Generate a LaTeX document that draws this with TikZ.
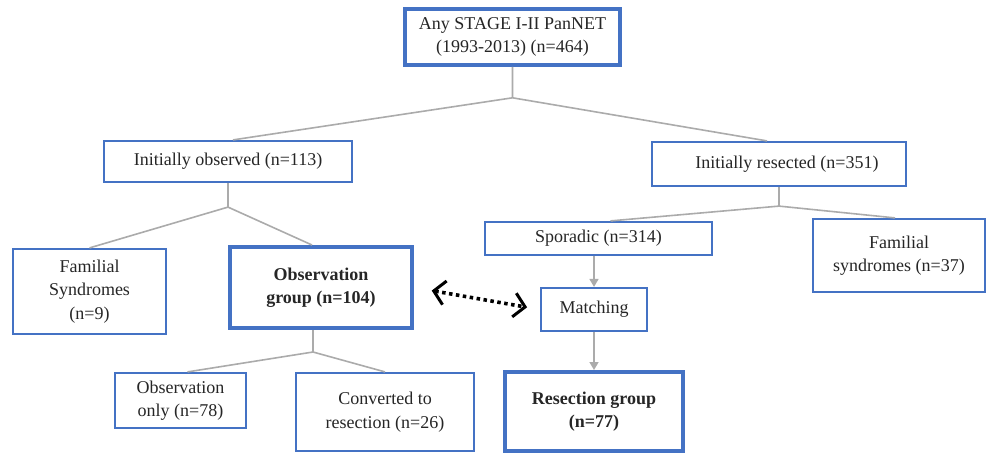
\documentclass[tikz,border=0pt]{standalone}
\usepackage{fontspec}
\setmainfont{Liberation Serif}
\usepackage{tikz}
\usetikzlibrary{arrows.meta,calc,positioning}
\definecolor{boxCol}{HTML}{4472C4}
\definecolor{lnCol}{HTML}{ABABAB}
\tikzset{
  box/.style={draw=boxCol, line width=2.2pt, fill=white, align=center, inner sep=2pt,
              font=\fontsize{18}{23.5}\selectfont, text=black!85},
  bigbox/.style={box, line width=4pt, font=\fontsize{18}{23.5}\selectfont\bfseries},
  tree/.style={lnCol, line width=1.6pt},
  flow/.style={lnCol, line width=1.6pt, -{Triangle[length=8pt,width=9pt]}},
  pairarr/.style={black, line width=3.6pt, dash pattern=on 3.5pt off 3.5pt,
                  {Straight Barb[length=11pt,width=24pt,line width=3pt]}-{Straight Barb[length=11pt,width=24pt,line width=3pt]}},
}
\begin{document}
\begin{tikzpicture}[x=1pt,y=-1pt]
  \useasboundingbox (0,0) rectangle (987,453);
  % cohort
  \node[box, line width=3.6pt, minimum width=215pt, minimum height=56pt] (all) at (512.5,37)
       {Any STAGE I-II PanNET\\(1993-2013) (n=464)};
  % first split
  \node[box, minimum width=248pt, minimum height=41pt] (obs) at (228,161.5) {Initially observed (n=113)};
  \node[box, minimum width=254pt, minimum height=44pt] (res) at (779,164) {\hspace{16pt}Initially resected (n=351)};
  % observed branch
  \node[box, minimum width=153pt, minimum height=85pt] (famL) at (89.5,291.5) {Familial\\Syndromes\\(n=9)};
  \node[bigbox, minimum width=182pt, minimum height=81pt] (obsgrp) at (321,287.5) {Observation\\group (n=104)};
  \node[box, minimum width=131pt, minimum height=55pt] (obsonly) at (180.5,400.5) {Observation\\only (n=78)};
  \node[box, minimum width=178pt, minimum height=78pt] (conv) at (385,412) {Converted to\\resection (n=26)};
  % resected branch
  \node[box, minimum width=227pt, minimum height=33pt] (spor) at (598.5,238.5) {Sporadic (n=314)};
  \node[box, minimum width=172pt, minimum height=73pt] (famR) at (899,255.5) {Familial\\syndromes (n=37)};
  \node[box, minimum width=106pt, minimum height=43pt] (match) at (594,309.5) {Matching};
  \node[bigbox, minimum width=178pt, minimum height=79pt] (resgrp) at (594,411.5) {Resection group\\(n=77)};

  % junctions
  \coordinate (j0) at ($(all.south)+(0,31)$);
  \coordinate (j1) at ($(obs.south)+(0,24)$);
  \coordinate (j2) at ($(obsgrp.south)+(-8,22)$);
  \coordinate (j3) at ($(res.south)+(0,19)$);

  \draw[tree] (all.south) -- (j0) (j0) -- ([xshift=5pt]obs.north) (j0) -- ([xshift=-12pt]res.north);
  \draw[tree] (obs.south) -- (j1) (j1) -- (famL.north) (j1) -- ([xshift=-9pt]obsgrp.north);
  \draw[tree] (obsgrp.south-|j2) -- (j2) (j2) -- ([xshift=7pt]obsonly.north) (j2) -- (conv.north);
  \draw[tree] (res.south) -- (j3) (j3) -- ([xshift=12pt]spor.north) (j3) -- ([xshift=-4pt]famR.north);
  \draw[flow] (spor.south-|match) -- (match);
  \draw[flow] (match) -- (resgrp);
  \draw[pairarr, shorten <=18pt, shorten >=13pt] (obsgrp.east) -- (match.west);
\end{tikzpicture}
\end{document}
